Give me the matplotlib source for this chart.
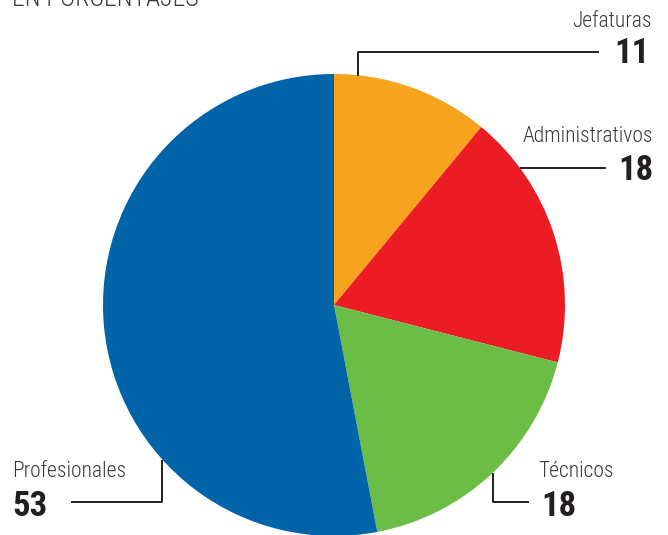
import matplotlib.pyplot as plt
from matplotlib import font_manager

# Distribución del personal, en porcentajes
categorias = ["Jefaturas", "Administrativos", "Técnicos", "Profesionales"]
valores = [11, 18, 18, 53]
colores = ["#F6A31E", "#EC1C24", "#6CBD45", "#0065A8"]

nombres = {f.name for f in font_manager.fontManager.ttflist}


def elegir(*opciones):
    for o in opciones:
        if o in nombres:
            return o
    return "DejaVu Sans"


fuente_txt = elegir("Roboto Condensed", "Liberation Sans Narrow", "Roboto", "Liberation Sans")
fuente_num = elegir("Roboto Condensed", "Liberation Sans Narrow", "Liberation Sans")
peso_txt = "light"

W, H = 668, 535
fig = plt.figure(figsize=(W / 100, H / 100), dpi=100)
ax = fig.add_axes([0, 0, 1, 1])

cx, cy, r = 334, 305, 231
# y invertida: counterclock=True recorre en sentido horario en pantalla
ax.pie(valores, colors=colores, startangle=-90, counterclock=True,
       center=(cx, cy), radius=r, frame=True,
       wedgeprops=dict(linewidth=0))
ax.set_xlim(0, W)
ax.set_ylim(H, 0)
ax.axis("off")
ax.set_aspect("auto")

gris = "#3a3a3a"
negro = "#231F20"
lw = 1.4
fs_txt = 15.5
fs_num = 25

ax.text(12, 6, "EN PORCENTAJES", fontsize=18.5, family=fuente_txt, weight=peso_txt,
        color=gris, ha="left", va="baseline")

# Jefaturas
ax.plot([358, 358, 598], [75, 52, 52], color=negro, lw=lw)
ax.text(652, 27, categorias[0], fontsize=fs_txt, family=fuente_txt, weight=peso_txt,
        color=gris, ha="right", va="baseline")
ax.text(650, 63, str(valores[0]), fontsize=fs_num, family=fuente_num, weight="heavy",
        color=negro, ha="right", va="baseline")

# Administrativos
ax.plot([521, 605], [168, 168], color=negro, lw=lw)
ax.text(653, 142, categorias[1], fontsize=fs_txt, family=fuente_txt, weight=peso_txt,
        color=gris, ha="right", va="baseline")
ax.text(653, 180, str(valores[1]), fontsize=fs_num, family=fuente_num, weight="heavy",
        color=negro, ha="right", va="baseline")

# Técnicos
ax.plot([493, 493, 528], [474, 502, 502], color=negro, lw=lw)
ax.text(538, 477, categorias[2], fontsize=fs_txt, family=fuente_txt, weight=peso_txt,
        color=gris, ha="left", va="baseline")
ax.text(541, 516, str(valores[2]), fontsize=fs_num, family=fuente_num, weight="heavy",
        color=negro, ha="left", va="baseline")

# Profesionales
ax.plot([162, 162, 72], [461, 502, 502], color=negro, lw=lw)
ax.text(12, 477, categorias[3], fontsize=fs_txt, family=fuente_txt, weight=peso_txt,
        color=gris, ha="left", va="baseline")
ax.text(12, 516, str(valores[3]), fontsize=fs_num, family=fuente_num, weight="heavy",
        color=negro, ha="left", va="baseline")

fig.savefig("out.png", dpi=100)
